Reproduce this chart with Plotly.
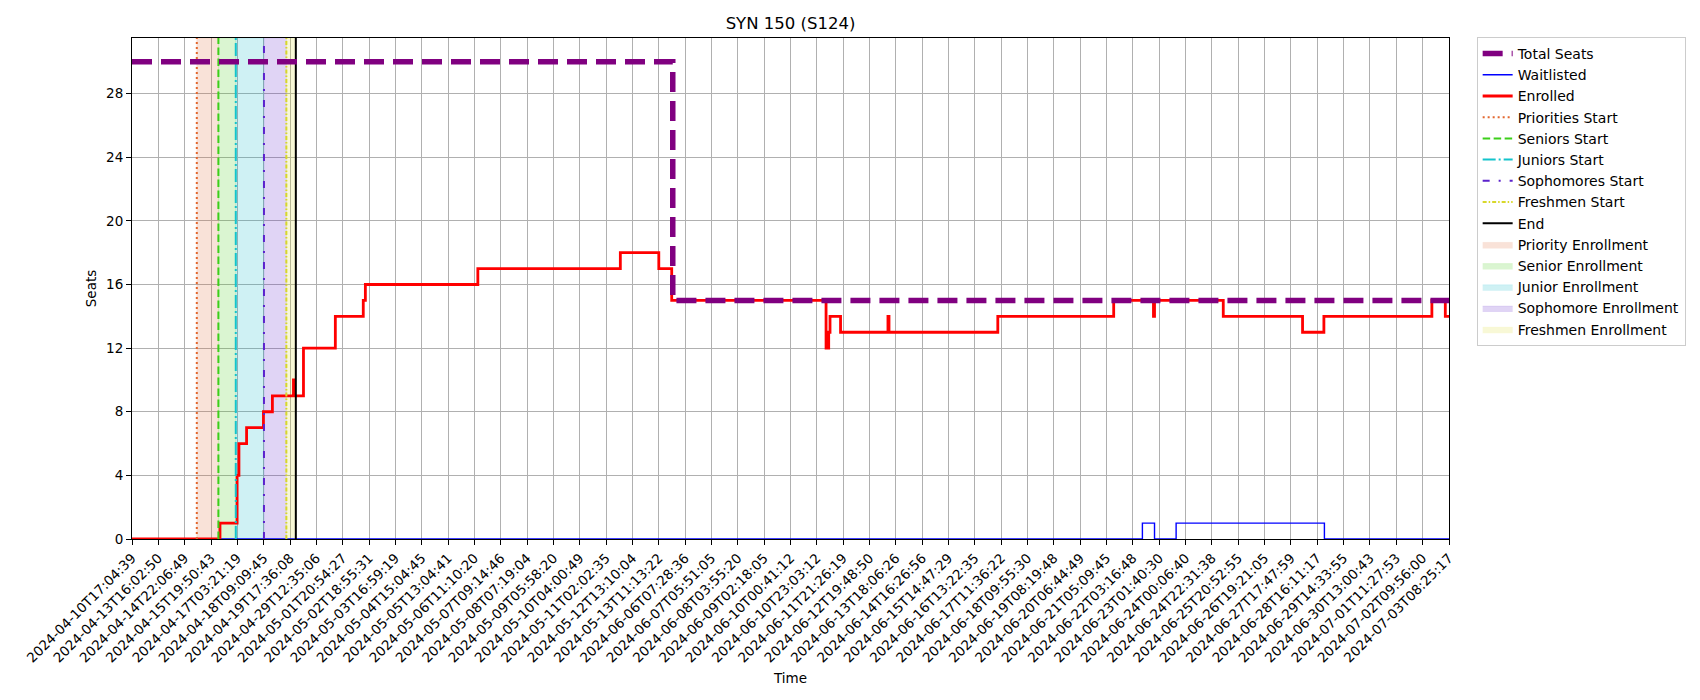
import plotly.graph_objects as go

# Enrollment history for one section. The time axis is evenly spaced by
# sample (not by clock), so positions below are in "tick steps" along it.
title = "SYN 150 (S124)"

tick_labels = [
    "2024-04-10T17:04:39", "2024-04-13T16:02:50", "2024-04-14T22:06:49",
    "2024-04-15T19:50:43", "2024-04-17T03:21:19", "2024-04-18T09:09:45",
    "2024-04-19T17:36:08", "2024-04-29T12:35:06", "2024-05-01T20:54:27",
    "2024-05-02T18:55:31", "2024-05-03T16:59:19", "2024-05-04T15:04:45",
    "2024-05-05T13:04:41", "2024-05-06T11:10:20", "2024-05-07T09:14:46",
    "2024-05-08T07:19:04", "2024-05-09T05:58:20", "2024-05-10T04:00:49",
    "2024-05-11T02:02:35", "2024-05-12T13:10:04", "2024-05-13T11:13:22",
    "2024-06-06T07:28:36", "2024-06-07T05:51:05", "2024-06-08T03:55:20",
    "2024-06-09T02:18:05", "2024-06-10T00:41:12", "2024-06-10T23:03:12",
    "2024-06-11T21:26:19", "2024-06-12T19:48:50", "2024-06-13T18:06:26",
    "2024-06-14T16:26:56", "2024-06-15T14:47:29", "2024-06-16T13:22:35",
    "2024-06-17T11:36:22", "2024-06-18T09:55:30", "2024-06-19T08:19:48",
    "2024-06-20T06:44:49", "2024-06-21T05:09:45", "2024-06-22T03:16:48",
    "2024-06-23T01:40:30", "2024-06-24T00:06:40", "2024-06-24T22:31:38",
    "2024-06-25T20:52:55", "2024-06-26T19:21:05", "2024-06-27T17:47:59",
    "2024-06-28T16:11:17", "2024-06-29T14:33:55", "2024-06-30T13:00:43",
    "2024-07-01T11:27:53", "2024-07-02T09:56:00", "2024-07-03T08:25:17",
]

total_pos = [0, 20.53, 50]
total_seats = [30, 15, 15]

waitlist_pos = [0, 38.36, 38.82, 39.64, 45.27, 50]
waitlist_seats = [0, 1, 0, 1, 0, 0]

enrolled_pos = [0, 3.34, 3.99, 4.06, 4.35, 4.99, 5.33, 6.13, 6.16, 6.51,
                7.72, 8.78, 8.86, 13.13, 18.54, 20.0, 20.49, 26.35, 26.45,
                26.5, 26.9, 28.7, 28.74, 32.87, 37.27, 38.78, 38.82, 41.43,
                44.44, 45.25, 49.35, 49.86, 50]
enrolled_seats = [0, 1, 4, 6, 7, 8, 9, 10, 9, 12,
                  14, 15, 16, 17, 18, 17, 15, 12, 13,
                  14, 13, 14, 13, 14, 15, 14, 15, 14,
                  13, 14, 15, 14, 14]

phase_starts = ["Priorities Start", "Seniors Start", "Juniors Start",
                "Sophomores Start", "Freshmen Start"]
phase_pos = [2.46, 3.28, 3.94, 5.01, 5.86]
end_pos = 6.22
phase_spans = ["Priority Enrollment", "Senior Enrollment", "Junior Enrollment",
               "Sophomore Enrollment", "Freshmen Enrollment"]

phase_colors = ["#e2672f", "#3ccf1a", "#14c4cc", "#5b22cc", "#d8d82a"]
span_colors = ["rgba(225,110,60,0.2)", "rgba(70,205,25,0.2)",
               "rgba(15,185,200,0.2)", "rgba(100,40,205,0.2)",
               "rgba(220,220,50,0.2)"]
phase_dash = ["2px,3px", "7.5px,3.5px", "13px,3px,2px,3px",
              "7px,9px,2px,9px", "4px,2px,1.5px,2px"]

Y_TOP = 31.5
FONT = "DejaVu Sans"

fig = go.Figure()

# shaded enrollment windows
span_edges = phase_pos + [end_pos]
for i, name in enumerate(phase_spans):
    x0, x1 = span_edges[i], span_edges[i + 1]
    fig.add_trace(go.Scatter(
        x=[x0, x1, x1, x0, x0], y=[0, 0, Y_TOP, Y_TOP, 0],
        mode="lines", fill="toself", fillcolor=span_colors[i],
        line=dict(width=0.5, color=span_colors[i]),
        name=name, legendrank=10 + i, hoverinfo="skip"))

fig.add_trace(go.Scatter(
    x=waitlist_pos, y=waitlist_seats, mode="lines", line_shape="hv",
    line=dict(color="blue", width=1.4), name="Waitlisted", legendrank=2))

fig.add_trace(go.Scatter(
    x=enrolled_pos, y=enrolled_seats, mode="lines", line_shape="hv",
    line=dict(color="red", width=2.8), name="Enrolled", legendrank=3))

# phase start lines
for i, name in enumerate(phase_starts):
    fig.add_trace(go.Scatter(
        x=[phase_pos[i], phase_pos[i]], y=[0, Y_TOP], mode="lines",
        line=dict(color=phase_colors[i], width=2, dash=phase_dash[i]),
        name=name, legendrank=4 + i))

fig.add_trace(go.Scatter(
    x=[end_pos, end_pos], y=[0, Y_TOP], mode="lines",
    line=dict(color="black", width=2), name="End", legendrank=9))

fig.add_trace(go.Scatter(
    x=total_pos, y=total_seats, mode="lines", line_shape="hv",
    line=dict(color="purple", width=5.5, dash="20px,9px"),
    name="Total Seats", legendrank=1))

axis_common = dict(
    showline=True, mirror=True, linecolor="black", linewidth=1.1,
    ticks="outside", ticklen=5, tickcolor="black", tickwidth=1.1,
    showgrid=True, gridcolor="#b0b0b0", gridwidth=1.1, zeroline=False,
    tickfont=dict(family=FONT, size=13.5, color="black"),
)

fig.update_xaxes(
    range=[0, 50], tickmode="array", tickvals=list(range(len(tick_labels))),
    ticktext=tick_labels, tickangle=-45, automargin=False,
    title=dict(text="Time", font=dict(family=FONT, size=13.5, color="black"),
               standoff=8),
    **axis_common)
fig.update_yaxes(
    range=[0, Y_TOP], tickmode="array", tickvals=list(range(0, 29, 4)),
    automargin=False,
    title=dict(text="Seats", font=dict(family=FONT, size=13.5, color="black"),
               standoff=6),
    **axis_common)

# the page body adds an 8px margin, so the figure is drawn 8px smaller
W, H = 1692, 692
fig.update_layout(
    width=W, height=H,
    margin=dict(l=124, r=W - 124 - 1317, t=30, b=H - 30 - 501),
    plot_bgcolor="white", paper_bgcolor="white",
    font=dict(family=FONT, size=13.5, color="black"),
    title=dict(text=title, x=0.5, xref="paper", y=1 - 15 / H,
               yanchor="middle", font=dict(family=FONT, size=16.5)),
    legend=dict(x=1.021, y=1.002, xanchor="left", yanchor="top",
                bordercolor="#cccccc", borderwidth=1, bgcolor="white",
                font=dict(family=FONT, size=14), tracegroupgap=0),
    showlegend=True,
)

fig.write_html("out.html")
